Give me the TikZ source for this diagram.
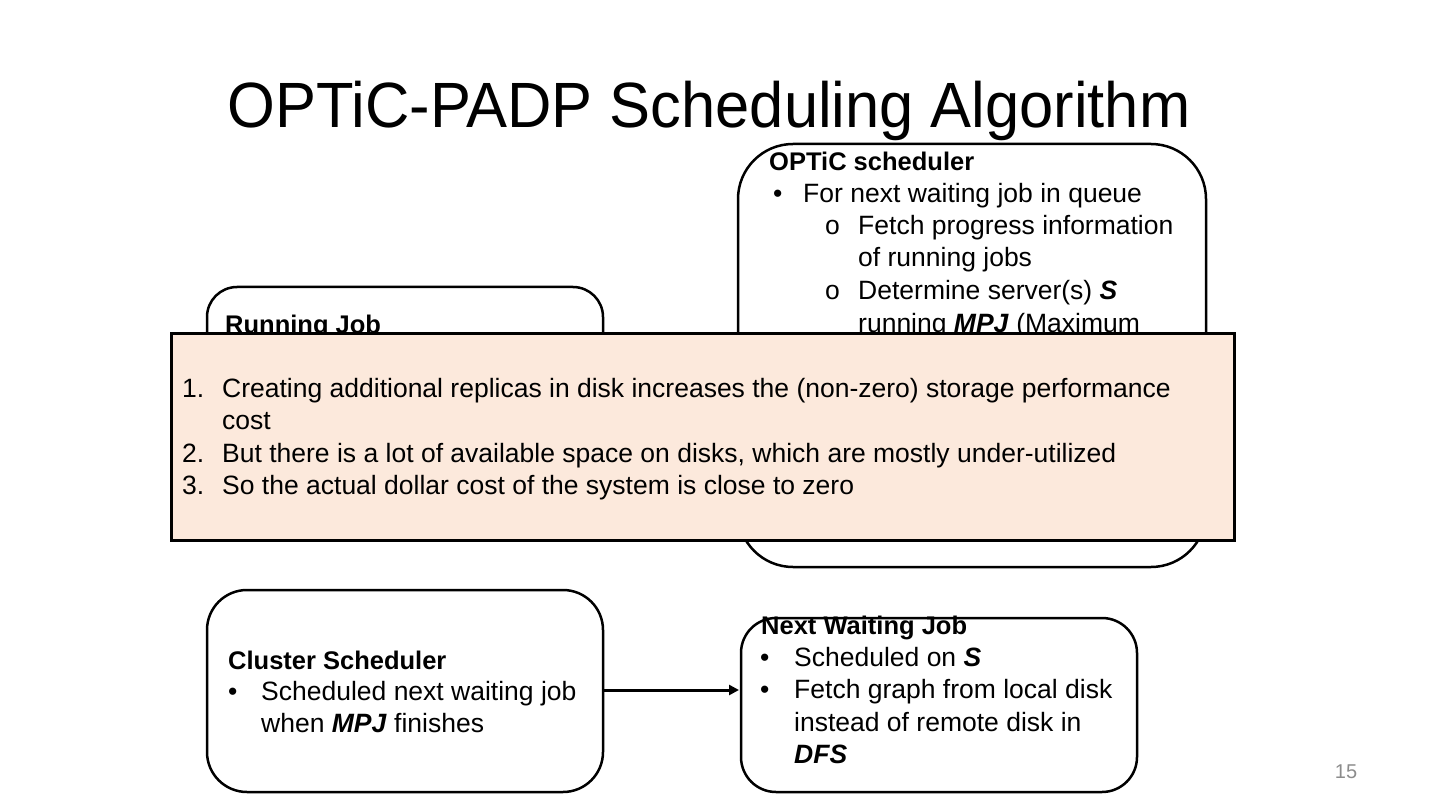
\documentclass[tikz,border=0pt]{standalone}
\usepackage{fontspec}
\setmainfont{Liberation Sans}
\newfontfamily\titlefont[FakeStretch=0.96]{Liberation Sans}
\usetikzlibrary{arrows.meta}
\definecolor{peach}{HTML}{FCE9DC}
\definecolor{pagegray}{HTML}{8C8C8C}
\tikzset{
  rbox/.style={draw=black, line width=2.5pt, fill=white},
  txt/.style={anchor=base west, inner sep=0pt, font=\fontsize{26.5}{30}\selectfont},
  head/.style={txt, font=\fontsize{25.5}{30}\selectfont\bfseries},
}
\begin{document}
\begin{tikzpicture}[x=1pt,y=-1pt]
\useasboundingbox (0,0) rectangle (1440,810);
% title
\node[anchor=base, inner sep=0pt, font=\titlefont\fontsize{64}{70}\selectfont] (title) at (709,128) {OPTiC-PADP Scheduling Algorithm};

% OPTiC scheduler box
\draw[rbox, rounded corners=55pt] (738,144) rectangle (1206,567);
\node[head] (oh) at (769,171) {OPTiC scheduler};
\node[txt] (ob1) at (773,203) {\textbullet};
\node[txt] (ot1) at (803,203) {For next waiting job in queue};
\node[txt] (ob2) at (825,235) {o};
\node[txt] (ot2) at (858,235) {Fetch progress information};
\node[txt] (ot3) at (858,267) {of running jobs};
\node[txt] (ob3) at (825,300) {o};
\node[txt] (ot4) at (858,300) {Determine server(s) \textbf{\textit{S}}};
\node[txt] (ot5) at (858,332) {running \textbf{\textit{MPJ}} (Maximum};

% Running job box
\draw[rbox, rounded corners=30pt] (207,287) rectangle (603,520);
\node[head] (rh) at (225,334) {Running Job};

% overlay
\draw[draw=black, line width=3pt, fill=peach] (171,333) rectangle (1234,540);
\node[txt] (n1) at (182,397) {1.};
\node[txt] (l1) at (222,397) {Creating additional replicas in disk increases the (non-zero) storage performance};
\node[txt] (l1b) at (222,429) {cost};
\node[txt] (n2) at (182,462) {2.};
\node[txt] (l2) at (222,462) {But there is a lot of available space on disks, which are mostly under-utilized};
\node[txt] (n3) at (182,494) {3.};
\node[txt] (l3) at (222,494) {So the actual dollar cost of the system is close to zero};

% Cluster scheduler box
\draw[rbox, rounded corners=40pt] (207,590) rectangle (603,792);
\coordinate (csr) at (603,690);
\node[head] (ch) at (228,669) {Cluster Scheduler};
\node[txt] (cb1) at (228,700) {\textbullet};
\node[txt] (ct1) at (261,700) {Scheduled next waiting job};
\node[txt] (ct2) at (261,732) {when \textbf{\textit{MPJ}} finishes};

% Next waiting job box
\draw[rbox, rounded corners=35pt] (741,618) rectangle (1137,792);
\coordinate (nwl) at (739,690);
\node[head] (nh) at (761,634) {Next Waiting Job};
\node[txt] (nb1) at (760,666) {\textbullet};
\node[txt] (nt1) at (794,666) {Scheduled on \textbf{\textit{S}}};
\node[txt] (nb2) at (760,698) {\textbullet};
\node[txt] (nt2) at (794,698) {Fetch graph from local disk};
\node[txt] (nt3) at (794,731) {instead of remote disk in};
\node[txt] (nt4) at (794,763) {\textbf{\textit{DFS}}};

% arrow
\draw[line width=3pt, -{Triangle[length=10pt,width=10pt]}] (csr) -- (nwl);

% page number
\node[anchor=base, inner sep=0pt, text=pagegray, font=\fontsize{20}{24}\selectfont] (pg) at (1346,778) {15};
\end{tikzpicture}
\end{document}
